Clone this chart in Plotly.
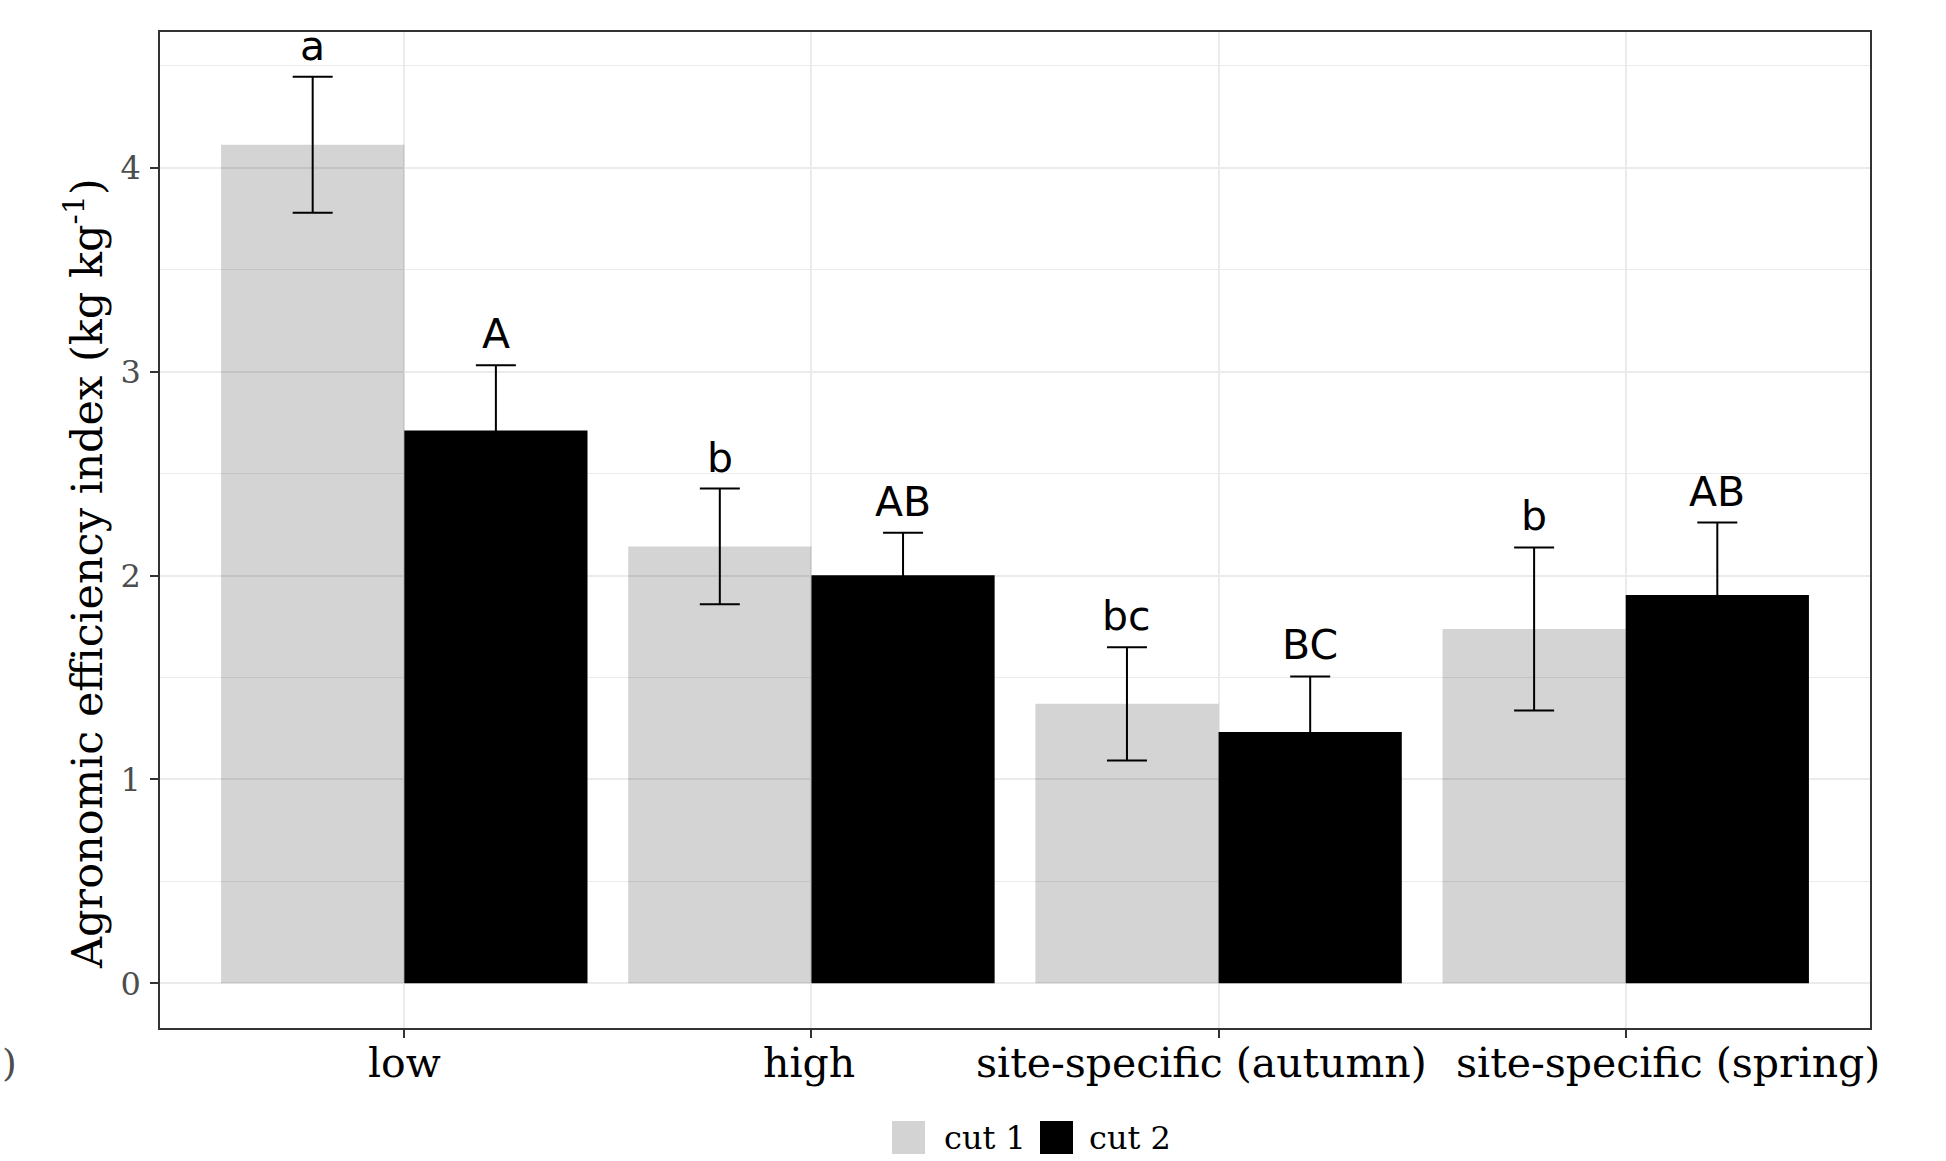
import plotly.graph_objects as go

categories = ["low", "high", "site-specific (autumn)", "site-specific (spring)"]
series_names = ["cut 1", "cut 2"]
cut1_mean = [4.113, 2.143, 1.371, 1.738]
cut1_se = [0.333, 0.284, 0.278, 0.400]
cut2_mean = [2.711, 2.002, 1.233, 1.905]
cut2_se = [0.321, 0.208, 0.272, 0.355]
cut1_letters = ["a", "b", "bc", "b"]
cut2_letters = ["A", "AB", "BC", "AB"]
y_ticks = [0, 1, 2, 3, 4]

GRAY = "rgba(0,0,0,0.17)"
BLACK = "#000000"
SERIF = "DejaVu Serif, serif"
SANS = "DejaVu Sans, sans-serif"
BAR_HALF = 0.225  # half of one bar's width in category units (bargap 0.1, 2 bars)

# layout geometry (pixels)
ML, MR, MT, MB = 160, 76, 32, 133
FIG_W, FIG_H = 1946, 1161
W = FIG_W - ML - MR
H = FIG_H - MT - MB
BOTTOM = MT + H


def py(pix):
    """pixel row -> paper y"""
    return (BOTTOM - pix) / H


def px(pix):
    """pixel column -> paper x"""
    return (pix - ML) / W


fig = go.Figure()
for name, means, ses, color in [
    (series_names[0], cut1_mean, cut1_se, GRAY),
    (series_names[1], cut2_mean, cut2_se, BLACK),
]:
    fig.add_trace(go.Bar(
        x=categories, y=means, name=name,
        marker=dict(color=color, line=dict(width=0)),
        error_y=dict(type="data", array=ses, visible=True,
                     color="#000000", thickness=2, width=20),
        showlegend=False,
    ))

annotations = []
for i, cat in enumerate(categories):
    for offset, means, ses, letters in [
        (-BAR_HALF, cut1_mean, cut1_se, cut1_letters),
        (BAR_HALF, cut2_mean, cut2_se, cut2_letters),
    ]:
        annotations.append(dict(
            x=i + offset, y=means[i] + ses[i], xref="x", yref="y",
            text=letters[i], showarrow=False, yanchor="bottom",
            yshift=5, font=dict(family=SANS, size=41, color="#000000"),
        ))

# x category labels (drawn as text so their slight offsets match the original)
label_nudge = [0, -2, -17, 42]
for i, cat in enumerate(categories):
    annotations.append(dict(
        x=i, y=py(1063), xref="x", yref="paper", text=cat,
        showarrow=False, xanchor="center", yanchor="middle",
        xshift=label_nudge[i],
        font=dict(family=SERIF, size=41, color="#000000"),
    ))

# y-axis title
annotations.append(dict(
    x=px(84), y=py(574), xref="paper", yref="paper",
    text="Agronomic efficiency index (kg kg<sup>-1</sup>)",
    textangle=-90, showarrow=False, xanchor="center", yanchor="middle",
    font=dict(family=SERIF, size=43, color="#000000"),
))
# stray clipped text at far left
annotations.append(dict(
    x=px(0), y=py(1063), xref="paper", yref="paper", text=")",
    showarrow=False, xanchor="left", yanchor="middle",
    font=dict(family=SERIF, size=38, color="#4d4d4d"),
))

# manual legend
shapes = []
legend_items = [(series_names[0], "#d3d3d3", 892, 942), (series_names[1], BLACK, 1040, 1087)]
for name, color, sx, tx in legend_items:
    shapes.append(dict(
        type="rect", xref="paper", yref="paper",
        x0=px(sx), x1=px(sx + 33), y0=py(1154), y1=py(1121),
        fillcolor=color, line=dict(width=0),
    ))
    annotations.append(dict(
        x=px(tx), y=py(1138), xref="paper", yref="paper",
        text=name, showarrow=False, xanchor="left", yanchor="middle",
        font=dict(family=SERIF, size=32, color="#000000"),
    ))

fig.update_layout(
    width=FIG_W, height=FIG_H,
    margin=dict(l=ML, r=MR, t=MT, b=MB, pad=0, autoexpand=False),
    paper_bgcolor="white", plot_bgcolor="white",
    barmode="group", bargap=0.1, bargroupgap=0,
    annotations=annotations, shapes=shapes,
    showlegend=False,
)
fig.update_xaxes(
    type="category", range=[-0.6, 3.6], automargin=False,
    showticklabels=False,
    showgrid=True, gridcolor="#ebebeb", gridwidth=2,
    showline=True, linecolor="#333333", linewidth=1.5, mirror=True,
    ticks="outside", ticklen=8, tickwidth=1.8, tickcolor="#333333",
    zeroline=False,
)
fig.update_yaxes(
    range=[-0.219, 4.666], tickvals=y_ticks, automargin=False,
    showgrid=True, gridcolor="#ebebeb", gridwidth=2,
    minor=dict(dtick=0.5, tick0=0, showgrid=True, gridcolor="#ebebeb", gridwidth=1.2),
    showline=True, linecolor="#333333", linewidth=1.5, mirror=True,
    ticks="outside", ticklen=8, tickwidth=1.8, tickcolor="#333333",
    tickfont=dict(family=SERIF, size=32, color="#4d4d4d"),
    ticklabelstandoff=3,
    zeroline=False,
)

fig.write_html("out.html")
